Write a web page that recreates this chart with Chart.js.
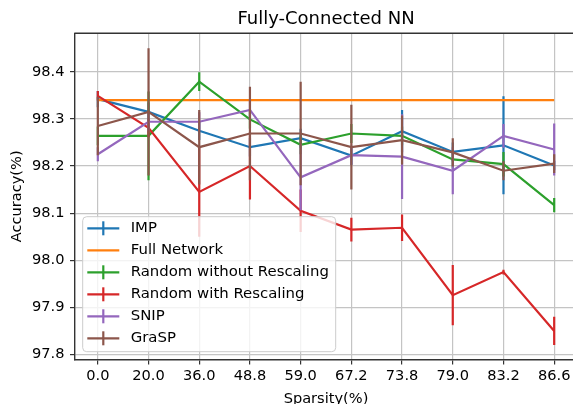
<!DOCTYPE html>
<html>
<head>
<meta charset="utf-8">
<script src="https://cdn.jsdelivr.net/npm/chart.js@4.4.0/dist/chart.umd.min.js"></script>
<style>
  html, body { margin: 0; padding: 0; overflow: hidden; background: #fff; }
  canvas { display: block; }
</style>
</head>
<body>
<canvas id="chart" width="590" height="410" style="width:590px;height:410px"></canvas>
<script>
// Sparsity levels (x categories) and accuracy tick marks
const sparsity = ['0.0', '20.0', '36.0', '48.8', '59.0', '67.2', '73.8', '79.0', '83.2', '86.6'];
const yTicks = [97.8, 97.9, 98.0, 98.1, 98.2, 98.3, 98.4];

// Mean test accuracy (%) per method, with error-bar half widths
const imp          = [98.342, 98.315, 98.275, 98.240, 98.259, 98.222, 98.274, 98.230, 98.244, 98.201];
const impErr       = [0.017, 0.020, 0.020, 0.020, 0.020, 0.020, 0.045, 0.020, 0.104, 0.010];
const fullNetwork  = [98.34, 98.34, 98.34, 98.34, 98.34, 98.34, 98.34, 98.34, 98.34, 98.34];
const randNoScale  = [98.264, 98.264, 98.379, 98.299, 98.245, 98.269, 98.264, 98.214, 98.204, 98.117];
const randNoScaleErr = [0.020, 0.094, 0.020, 0.020, 0.020, 0.020, 0.020, 0.020, 0.026, 0.015];
const randScale    = [98.349, 98.281, 98.145, 98.200, 98.105, 98.065, 98.069, 97.926, 97.975, 97.850];
const randScaleErr = [0.010, 0.020, 0.095, 0.071, 0.045, 0.025, 0.028, 0.064, 0.005, 0.030];
const snip         = [98.225, 98.294, 98.294, 98.319, 98.176, 98.223, 98.220, 98.190, 98.264, 98.235];
const snipErr      = [0.015, 0.020, 0.020, 0.020, 0.070, 0.020, 0.090, 0.050, 0.025, 0.055];
const grasp        = [98.285, 98.315, 98.240, 98.269, 98.269, 98.240, 98.255, 98.229, 98.190, 98.205];
const graspErr     = [0.062, 0.135, 0.079, 0.099, 0.110, 0.090, 0.052, 0.030, 0.020, 0.020];

const FONT = 'DejaVu Sans';
const LW = 2.2;

const series = [
  { label: 'IMP',                       values: imp,         errors: impErr,         color: '#1f77b4' },
  { label: 'Full Network',              values: fullNetwork, errors: null,           color: '#ff7f0e' },
  { label: 'Random without Rescaling',  values: randNoScale, errors: randNoScaleErr, color: '#2ca02c' },
  { label: 'Random with Rescaling',     values: randScale,   errors: randScaleErr,   color: '#d62728' },
  { label: 'SNIP',                      values: snip,        errors: snipErr,        color: '#9467bd' },
  { label: 'GraSP',                     values: grasp,       errors: graspErr,       color: '#8c564b' }
];

const datasets = series.map((s, i) => ({
  label: s.label,
  data: s.values.map((v, j) => ({ x: j, y: v })),
  errors: s.errors,
  borderColor: s.color,
  backgroundColor: s.color,
  borderWidth: LW,
  pointRadius: 0,
  pointHoverRadius: 0,
  tension: 0,
  fill: false,
  order: series.length - i   // later series are painted on top
}));

// Vertical error bars, painted right after each series' line
const errorBars = {
  id: 'errorBars',
  afterDatasetDraw(chart, args) {
    const ds = chart.data.datasets[args.index];
    if (!ds.errors) return;
    const yScale = chart.scales.y;
    const a = chart.chartArea;
    const ctx = chart.ctx;
    ctx.save();
    ctx.beginPath();
    ctx.rect(a.left, a.top, a.right - a.left, a.bottom - a.top);
    ctx.clip();
    ctx.strokeStyle = ds.borderColor;
    ctx.lineWidth = ds.borderWidth;
    ctx.lineCap = 'butt';
    args.meta.data.forEach((pt, j) => {
      const v = ds.data[j].y, e = ds.errors[j];
      ctx.beginPath();
      ctx.moveTo(pt.x, yScale.getPixelForValue(v + e));
      ctx.lineTo(pt.x, yScale.getPixelForValue(v - e));
      ctx.stroke();
    });
    ctx.restore();
  }
};

// Top frame line and the boxed legend with error-bar handles
const frameAndLegend = {
  id: 'frameAndLegend',
  afterDraw(chart) {
    const ctx = chart.ctx;
    const a = chart.chartArea;
    ctx.save();
    ctx.strokeStyle = '#333';
    ctx.lineWidth = 1.4;
    ctx.beginPath();
    ctx.moveTo(a.left - 0.7, a.top);
    ctx.lineTo(a.right, a.top);
    ctx.stroke();

    // legend frame
    const bx = 82.7, by = 216.7, bw = 253, bh = 135, r = 4;
    ctx.beginPath();
    ctx.moveTo(bx + r, by);
    ctx.arcTo(bx + bw, by, bx + bw, by + bh, r);
    ctx.arcTo(bx + bw, by + bh, bx, by + bh, r);
    ctx.arcTo(bx, by + bh, bx, by, r);
    ctx.arcTo(bx, by, bx + bw, by, r);
    ctx.closePath();
    ctx.fillStyle = 'rgba(255,255,255,0.8)';
    ctx.fill();
    ctx.strokeStyle = '#cccccc';
    ctx.lineWidth = 1;
    ctx.stroke();

    ctx.font = '14.9px "' + FONT + '"';
    ctx.textBaseline = 'middle';
    ctx.textAlign = 'left';
    chart.data.datasets.forEach((ds, i) => {
      const y = 228.3 + i * 22;
      ctx.strokeStyle = ds.borderColor;
      ctx.lineWidth = LW;
      ctx.beginPath();
      ctx.moveTo(87.3, y);
      ctx.lineTo(119.3, y);
      ctx.stroke();
      if (ds.errors) {
        ctx.beginPath();
        ctx.moveTo(103.3, y - 7);
        ctx.lineTo(103.3, y + 7);
        ctx.stroke();
      }
      ctx.fillStyle = '#000';
      ctx.fillText(ds.label, 130.7, y);
    });
    ctx.restore();
  }
};

const tickFont = { family: FONT, size: 14.6 };

new Chart(document.getElementById('chart'), {
  type: 'line',
  data: { datasets },
  plugins: [errorBars, frameAndLegend],
  options: {
    responsive: false,
    animation: false,
    devicePixelRatio: 1,
    layout: { padding: { left: 0, right: 13, top: 0, bottom: 0 } },
    plugins: {
      legend: { display: false },
      tooltip: { enabled: false },
      title: {
        display: true,
        text: 'Fully-Connected NN',
        fullSize: false,
        color: '#000',
        font: { family: FONT, size: 18, weight: 'normal' },
        padding: { top: 8.7, bottom: 3.0 }
      }
    },
    scales: {
      x: {
        type: 'linear',
        min: -0.45,
        max: sparsity.length - 1 + 0.45,
        afterBuildTicks: (scale) => { scale.ticks = sparsity.map((_, i) => ({ value: i })); },
        afterFit: (scale) => {
          scale.height = 50.6;
          scale.paddingLeft = 0;
          scale.paddingRight = 0;
        },
        ticks: {
          autoSkip: false,
          maxRotation: 0,
          minRotation: 0,
          padding: 3.5,
          color: '#000',
          font: tickFont,
          callback: (v) => sparsity[v]
        },
        grid: {
          color: '#c4c4c4',
          lineWidth: 1.2,
          drawTicks: true,
          tickLength: 5,
          tickColor: '#333',
          tickWidth: 1.2
        },
        border: { display: true, color: '#333', width: 1.4 },
        title: {
          display: true,
          text: 'Sparsity(%)',
          color: '#000',
          font: { family: FONT, size: 14.6 },
          padding: { top: 0, bottom: 2.2 }
        }
      },
      y: {
        type: 'linear',
        min: 97.7896,
        max: 98.4817,
        afterBuildTicks: (scale) => { scale.ticks = yTicks.map(v => ({ value: v })); },
        afterFit: (scale) => {
          scale.width = 75;
          scale.paddingTop = 0;
          scale.paddingBottom = 0;
        },
        ticks: {
          padding: 5.5,
          color: '#000',
          font: tickFont,
          callback: (v) => v.toFixed(1)
        },
        grid: {
          color: '#c4c4c4',
          lineWidth: 1.2,
          drawTicks: true,
          tickLength: 5,
          tickColor: '#333',
          tickWidth: 1.2
        },
        border: { display: true, color: '#333', width: 1.4 },
        title: {
          display: true,
          text: 'Accuracy(%)',
          color: '#000',
          font: { family: FONT, size: 14.6 },
          padding: { top: 8.7, bottom: 0 }
        }
      }
    }
  }
});
</script>
</body>
</html>
